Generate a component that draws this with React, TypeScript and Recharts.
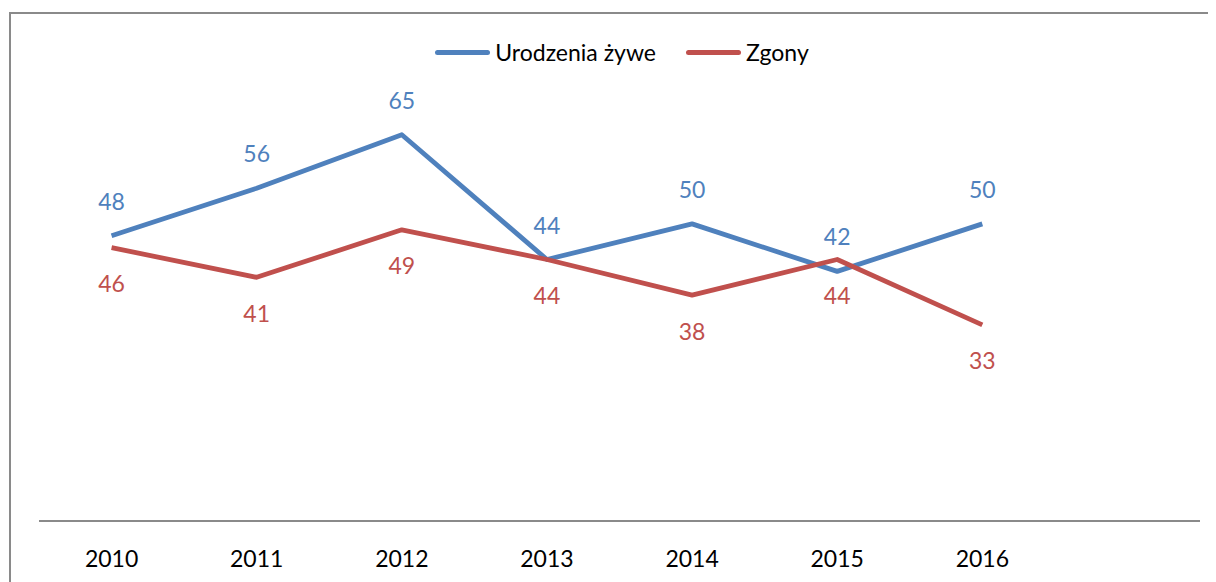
import React from 'react';
import { LineChart, Line, XAxis, YAxis, LabelList, Legend } from 'recharts';

const years = ['2010', '2011', '2012', '2013', '2014', '2015', '2016', ''];
const births = [48, 56, 65, 44, 50, 42, 50];
const deaths = [46, 41, 49, 44, 38, 44, 33];
const seriesNames = ['Urodzenia żywe', 'Zgony'];
const colors = ['#4F81BD', '#C0504D'];

const data = years.map((y, i) => ({ year: y, births: births[i], deaths: deaths[i] }));

const FONT = 'Lato, "Open Sans", sans-serif';

const renderLegend = () => (
  <div
    style={{
      display: 'flex',
      justifyContent: 'center',
      alignItems: 'center',
      fontFamily: FONT,
      fontSize: 23,
      color: '#000',
      paddingLeft: 20,
    }}
  >
    {seriesNames.map((n, i) => (
      <div key={n} style={{ display: 'flex', alignItems: 'center', marginRight: i === 0 ? 30 : 0 }}>
        <span
          style={{
            display: 'inline-block',
            width: 55,
            height: 5,
            borderRadius: 3,
            background: colors[i],
            marginRight: 5,
          }}
        />
        <span>{n}</span>
      </div>
    ))}
  </div>
);

export default function App() {
  return (
    <div style={{ position: 'relative', width: 1208, height: 574, overflow: 'hidden', background: '#fff' }}>
      <div
        style={{
          position: 'absolute',
          left: 1,
          top: 4,
          width: 1400,
          height: 800,
          border: '2px solid #8a8a8a',
          boxSizing: 'border-box',
        }}
      />
      <div style={{ position: 'absolute', left: 0, top: 0 }}>
        <LineChart width={1208} height={574} data={data} margin={{ top: 97, right: 16, bottom: 21, left: 31 }}>
          <XAxis
            dataKey="year"
            type="category"
            scale="band"
            height={40}
            tickLine={false}
            tickMargin={24}
            axisLine={{ stroke: '#8a8a8a', strokeWidth: 2 }}
            tick={{ fontFamily: FONT, fontSize: 23, fill: '#000' }}
            interval={0}
          />
          <YAxis hide domain={[0, 70]} />
          <Legend
            verticalAlign="middle"
            align="center"
            content={renderLegend}
            wrapperStyle={{ top: 30, left: 0, width: 1208 }}
          />
          <Line
            dataKey="births"
            name={seriesNames[0]}
            stroke={colors[0]}
            strokeWidth={4.8}
            strokeLinejoin="round"
            dot={false}
            isAnimationActive={false}
          >
            <LabelList
              dataKey="births"
              position="top"
              offset={26}
              style={{ fontFamily: FONT, fontSize: 23, fill: colors[0] }}
            />
          </Line>
          <Line
            dataKey="deaths"
            name={seriesNames[1]}
            stroke={colors[1]}
            strokeWidth={4.8}
            strokeLinejoin="round"
            dot={false}
            isAnimationActive={false}
          >
            <LabelList
              dataKey="deaths"
              position="bottom"
              offset={28}
              style={{ fontFamily: FONT, fontSize: 23, fill: colors[1] }}
            />
          </Line>
        </LineChart>
      </div>
    </div>
  );
}
